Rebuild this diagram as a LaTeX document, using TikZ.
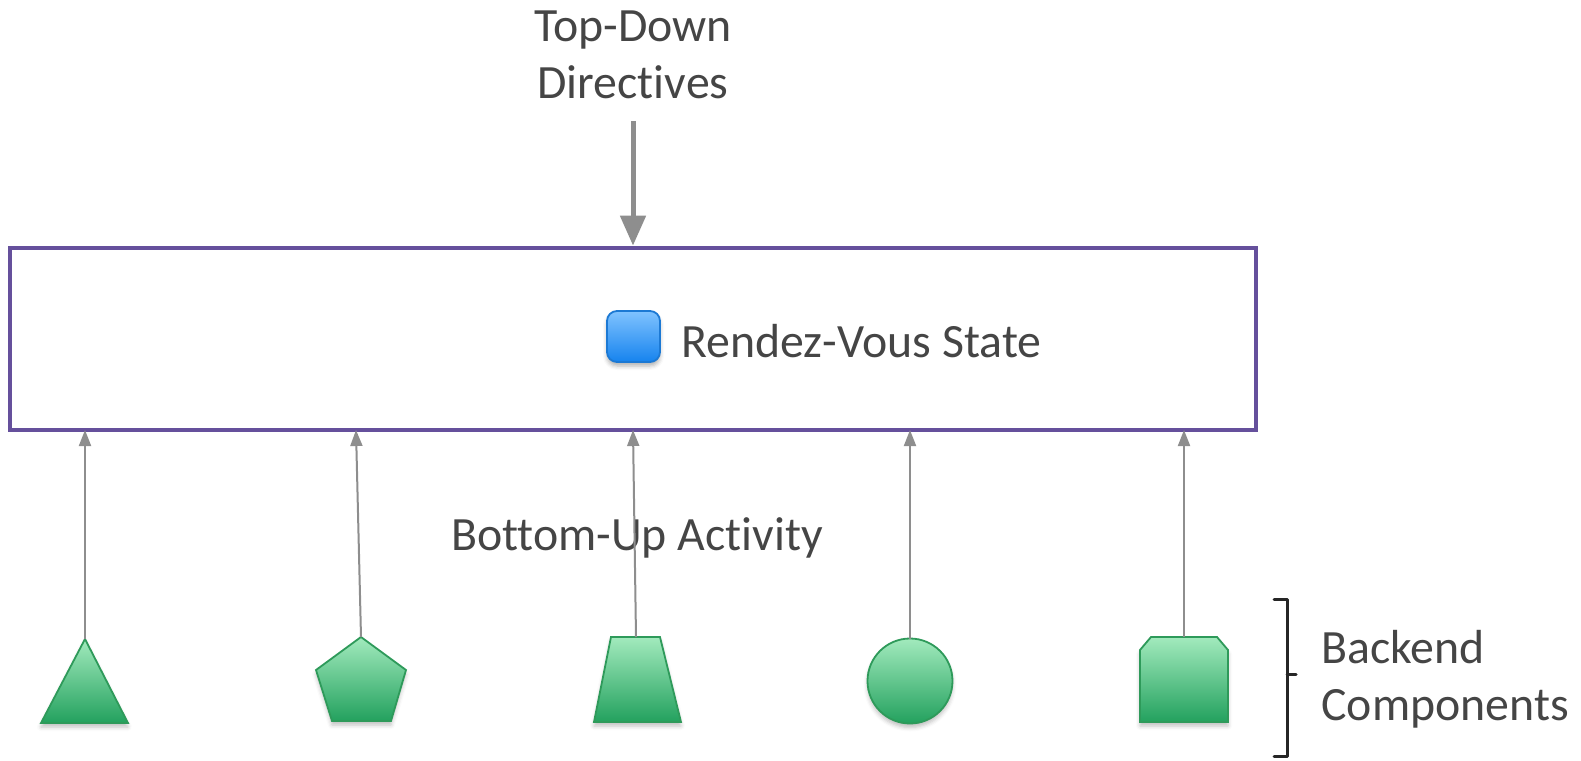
\documentclass[tikz,border=0pt]{standalone}
\usepackage{fontspec}
\setmainfont{Carlito}[Ligatures=NoCommon]
\usetikzlibrary{arrows.meta,shadows.blur}
\definecolor{txt}{HTML}{454545}
\definecolor{arrowgray}{HTML}{8E8E8E}
\definecolor{framepurple}{HTML}{65509C}
\definecolor{greentop}{HTML}{A2EABD}
\definecolor{greenbot}{HTML}{23A15E}
\definecolor{greenline}{HTML}{2E9A5A}
\definecolor{bluetop}{HTML}{80C3FF}
\definecolor{bluebot}{HTML}{1683EE}
\definecolor{blueline}{HTML}{1C79D4}
\begin{document}
\begin{tikzpicture}[x=0.5pt,y=-0.5pt,
  lbl/.style={text=txt,font=\fontsize{23.9pt}{28.5pt}\selectfont,inner sep=0pt},
  statebox/.style={draw=framepurple,line width=2.4pt,minimum width=623pt,minimum height=91pt,inner sep=0pt},
  bigarrow/.style={draw=arrowgray,line width=2.5pt,-{Triangle[width=12.5pt,length=15pt]}},
  smallarrow/.style={draw=arrowgray,line width=1pt,-{Triangle[width=6pt,length=8pt]}},
  comp/.style={draw=greenline,line width=0.9pt,top color=greentop,bottom color=greenbot,
    blur shadow={shadow xshift=0pt,shadow yshift=-2pt,shadow blur radius=2pt,shadow opacity=25}},
  statemark/.style={draw=blueline,line width=0.9pt,rounded corners=5pt,top color=bluetop,bottom color=bluebot,
    minimum width=26.5pt,minimum height=25.5pt,inner sep=0pt,
    blur shadow={shadow xshift=0pt,shadow yshift=-2pt,shadow blur radius=2pt,shadow opacity=30}},
  bracket/.style={draw=black!85,line width=1.5pt,line cap=round,line join=round}]
\useasboundingbox (0,0) rectangle (1581,761);

% rendez-vous frame and its contents
\node[statebox] (state) at (633,339) {};
\node[statemark] (mark) at (633.5,336.5) {};
\node[lbl,anchor=west] (statelbl) at (681,341) {Rendez-Vous State};

% top-down directives
\node[lbl,align=center] (top) at (633,55) {Top-Down\\Directives};
\coordinate (dirstart) at (633,121);
\draw[bigarrow] (dirstart) -- (state.north);

% bottom-up activity label
\node[lbl] (bottom) at (637,538) {Bottom-Up Activity};

% backend components
\path[comp] (41,723) -- (85,639) -- (128,723) -- cycle;
\coordinate (c1) at (85,639);
\path[comp] (361,637) -- (406,670) -- (391,721) -- (332,721) -- (316,670) -- cycle;
\coordinate (c2) at (361,637);
\path[comp] (611,637) -- (660,637) -- (681,722) -- (594,722) -- cycle;
\coordinate (c3) at (636,637);
\path[comp] (910,681) ellipse [x radius=42.5,y radius=42.5];
\coordinate (c4) at (910,638.5);
\path[comp] (1140,722) -- (1140,650) -- (1151,637) -- (1217,637) -- (1228,650) -- (1228,722) -- cycle;
\coordinate (c5) at (1184,637);

% arrow ends on the frame
\coordinate (e1) at (85,430);
\coordinate (e2) at (356,430);
\coordinate (e3) at (633,430);
\coordinate (e4) at (910,430);
\coordinate (e5) at (1184,430);
\foreach \i in {1,...,5} \draw[smallarrow] (c\i) -- (e\i);

% bracket and label
\coordinate (bt) at (1274,599);
\coordinate (bb) at (1274,756);
\draw[bracket] (bt) -- (1287,599) -- (1287,756) -- (bb);
\coordinate (bm) at (1287,674);
\draw[bracket] (bm) -- (1296,674);
\node[lbl,align=left,anchor=west] (backend) at (1321,679) {Backend\\Components};
\end{tikzpicture}
\end{document}
